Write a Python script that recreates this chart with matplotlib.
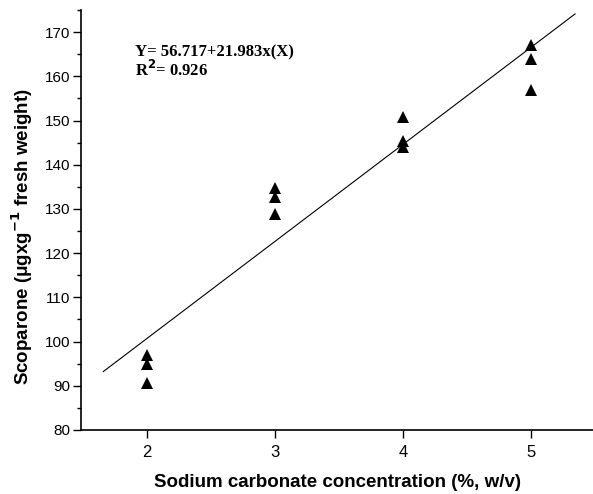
import matplotlib.pyplot as plt
import numpy as np

# sodium carbonate concentration (%, w/v), three replicates each
conc = [2, 2, 2, 3, 3, 3, 4, 4, 4, 5, 5, 5]
scoparone = [97, 95, 90.7, 134.8, 132.8, 128.8, 150.9, 145.4, 143.9, 167, 164, 157]

intercept = 56.717
slope = 21.983
fit_range = [1.66, 5.34]

x_ticks = [2, 3, 4, 5]
y_ticks = [80, 90, 100, 110, 120, 130, 140, 150, 160, 170]

fig = plt.figure(figsize=(5.93, 4.94), dpi=100)
ax = fig.add_axes([0.1374, 0.1296, 0.8626, 0.8502])

X = np.array(fit_range)
ax.plot(X, intercept + slope * X, color="black", lw=0.8)
ax.plot(conc, scoparone, "^", color="black", markersize=8, markeredgewidth=0)

ax.set_xlim(1.49, 5.48)
ax.set_ylim(80, 175)
ax.set_xticks(x_ticks)
ax.set_yticks(y_ticks)
ax.set_yticks(np.arange(85, 176, 10), minor=True)

for side in ["top", "right"]:
    ax.spines[side].set_visible(False)
ax.spines["left"].set_linewidth(1.2)
ax.spines["bottom"].set_linewidth(1.2)

ax.tick_params(axis="both", which="major", direction="out", length=6, width=1.0,
               labelfontfamily="Liberation Sans")
ax.tick_params(axis="x", labelsize=12, pad=5)
ax.tick_params(axis="y", labelsize=11, pad=2)
ax.tick_params(axis="y", which="minor", direction="out", length=3, width=1.0)

ax.set_xlabel("Sodium carbonate concentration (%, w/v)", fontsize=13.5,
              fontweight="bold", family="Liberation Sans", labelpad=10)
ax.set_ylabel("Scoparone (\u03bcgxg$^{\\mathbf{-1}}$ fresh weight)", fontsize=13.5,
              fontweight="bold", family="Liberation Sans")
ax.yaxis.set_label_coords(-0.09, 0.46)

ax.text(1.907, 165.5, "Y= 56.717+21.983x(X)", fontsize=12, fontweight="bold",
        family="Liberation Serif", va="center", ha="left")
ax.text(1.907, 161.4, "R$^{\\mathbf{2}}$= 0.926", fontsize=12, fontweight="bold",
        family="Liberation Serif", va="center", ha="left")

fig.savefig("out.png", dpi=100)
